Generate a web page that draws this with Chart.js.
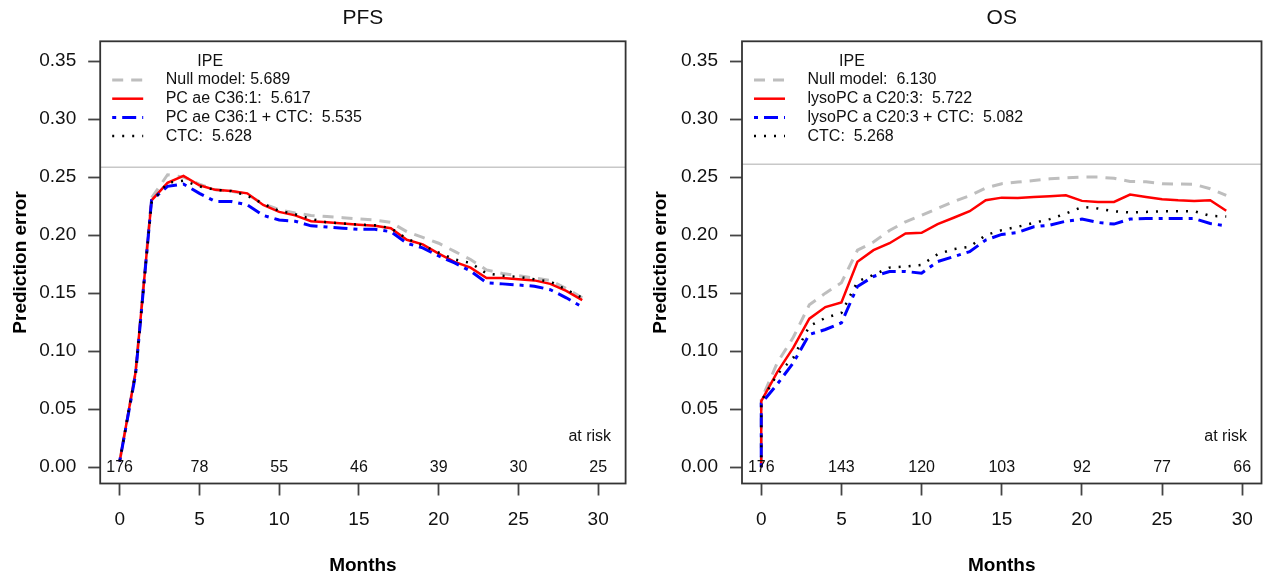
<!DOCTYPE html>
<html>
<head>
<meta charset="utf-8">
<script src="https://cdn.jsdelivr.net/npm/chart.js@4.4.0/dist/chart.umd.min.js"></script>
<style>
  body { margin: 0; background: #fff; width: 1266px; height: 579px; overflow: hidden; }
  canvas { position: absolute; top: 0; }
  #pfs { left: 0; }
  #os { left: 633px; }
</style>
</head>
<body>
<canvas id="pfs" width="633" height="579"></canvas>
<canvas id="os" width="633" height="579"></canvas>
<script>
//========================= Data ===========================
var xTicks = [0, 5, 10, 15, 20, 25, 30];
var yTicks = [0, 0.05, 0.10, 0.15, 0.20, 0.25, 0.30, 0.35];

// PFS panel: one value per month 0..29
var pfsTimes = [0, 1, 2, 3, 4, 5, 6, 7, 8, 9, 10, 11, 12, 13, 14, 15, 16, 17, 18, 19, 20, 21, 22, 23, 24, 25, 26, 27, 28, 29];
var pfsNull  = [0.005, 0.082, 0.232, 0.252, 0.250, 0.244, 0.239, 0.238, 0.235, 0.227, 0.222, 0.219, 0.217, 0.216, 0.215, 0.214, 0.213, 0.211, 0.203, 0.198, 0.193, 0.186, 0.179, 0.170, 0.167, 0.165, 0.163, 0.161, 0.154, 0.146];
var pfsPC    = [0.005, 0.082, 0.230, 0.245, 0.251, 0.243, 0.239, 0.238, 0.236, 0.226, 0.220, 0.217, 0.212, 0.211, 0.210, 0.209, 0.208, 0.206, 0.196, 0.192, 0.184, 0.177, 0.172, 0.163, 0.163, 0.162, 0.161, 0.158, 0.152, 0.144];
var pfsPCCtc = [0.005, 0.080, 0.230, 0.242, 0.244, 0.236, 0.229, 0.229, 0.226, 0.217, 0.213, 0.212, 0.208, 0.207, 0.206, 0.205, 0.205, 0.203, 0.193, 0.189, 0.182, 0.176, 0.169, 0.159, 0.158, 0.157, 0.156, 0.153, 0.146, 0.138];
var pfsCTC   = [0.005, 0.082, 0.228, 0.245, 0.247, 0.242, 0.239, 0.238, 0.234, 0.227, 0.221, 0.218, 0.214, 0.211, 0.210, 0.209, 0.2085, 0.206, 0.197, 0.191, 0.185, 0.179, 0.176, 0.167, 0.165, 0.164, 0.162, 0.160, 0.153, 0.146];
var pfsLabels = ['Null model: 5.689', 'PC ae C36:1:  5.617', 'PC ae C36:1 + CTC:  5.535', 'CTC:  5.628'];
var pfsAtRisk = [176, 78, 55, 46, 39, 30, 25];

// OS panel: jump at time 0, then one value per month 0..29
var osTimes    = [0, 0, 1, 2, 3, 4, 5, 6, 7, 8, 9, 10, 11, 12, 13, 14, 15, 16, 17, 18, 19, 20, 21, 22, 23, 24, 25, 26, 27, 28, 29];
var osNull     = [0, 0.058, 0.090, 0.112, 0.140, 0.150, 0.159, 0.187, 0.194, 0.204, 0.2115, 0.217, 0.223, 0.229, 0.234, 0.2406, 0.2443, 0.2457, 0.247, 0.2485, 0.2494, 0.250, 0.250, 0.249, 0.2463, 0.246, 0.2443, 0.244, 0.2437, 0.240, 0.2343];
var osLyso     = [0, 0.057, 0.082, 0.103, 0.128, 0.138, 0.142, 0.177, 0.187, 0.193, 0.2015, 0.202, 0.2095, 0.215, 0.2206, 0.230, 0.2323, 0.232, 0.2329, 0.2335, 0.2343, 0.2295, 0.2286, 0.2286, 0.2349, 0.2329, 0.2309, 0.230, 0.2295, 0.230, 0.221];
var osLysoCtc  = [0, 0.055, 0.0716, 0.090, 0.1144, 0.1187, 0.1244, 0.1558, 0.1644, 0.1687, 0.1687, 0.1672, 0.1772, 0.1815, 0.1858, 0.1958, 0.2006, 0.2023, 0.2072, 0.2086, 0.212, 0.2138, 0.2109, 0.2095, 0.2138, 0.2143, 0.2143, 0.2143, 0.2143, 0.210, 0.208];
var osCTC      = [0, 0.057, 0.080, 0.0944, 0.1216, 0.1287, 0.133, 0.160, 0.1658, 0.172, 0.173, 0.1744, 0.1835, 0.188, 0.190, 0.200, 0.2043, 0.2072, 0.2106, 0.2138, 0.2186, 0.2243, 0.2229, 0.2206, 0.2195, 0.220, 0.2206, 0.2206, 0.2206, 0.2166, 0.216];
var osLabels = ['Null model:  6.130', 'lysoPC a C20:3:  5.722', 'lysoPC a C20:3 + CTC:  5.082', 'CTC:  5.268'];
var osAtRisk = [176, 143, 120, 103, 92, 77, 66];

var atRiskTimes = [0, 5, 10, 15, 20, 25, 30];

//========================= Styles ===========================
var FONT = '"Liberation Sans", Arial, Helvetica, sans-serif';
Chart.defaults.font.family = FONT;

var seriesStyle = [
    { color: '#bebebe', width: 3,   dash: [11, 8] },
    { color: '#ff0000', width: 2.5, dash: [] },
    { color: '#0000ff', width: 3,   dash: [4, 6, 14, 6] },
    { color: '#000000', width: 2.5, dash: [2, 8] }
];

// box, legend and "at risk" numbers, R style
var decor = {
    id: 'decor',
    afterDatasetsDraw: function (chart, args, o) {
        var ctx = chart.ctx, a = chart.chartArea;
        var xs = chart.scales.x, ys = chart.scales.y;
        ctx.save();

        // legend frame bottom line
        ctx.strokeStyle = '#c8c8c8';
        ctx.lineWidth = 1.5;
        ctx.beginPath();
        ctx.moveTo(a.left, a.top + o.legendBottom);
        ctx.lineTo(a.right, a.top + o.legendBottom);
        ctx.stroke();

        // plot box
        ctx.strokeStyle = '#333';
        ctx.lineWidth = 1.8;
        ctx.strokeRect(a.left, a.top, a.right - a.left, a.bottom - a.top);

        // legend
        ctx.font = '16px ' + FONT;
        ctx.fillStyle = '#111';
        ctx.textBaseline = 'middle';
        ctx.textAlign = 'center';
        ctx.fillText('IPE', a.left + 110, a.top + 20.4);
        ctx.textAlign = 'left';
        o.labels.forEach(function (t, i) {
            var ly = a.top + 38.7 + i * 18.7;
            var st = seriesStyle[i];
            ctx.strokeStyle = st.color;
            ctx.lineWidth = st.width;
            ctx.setLineDash(st.dash);
            ctx.beginPath();
            ctx.moveTo(a.left + 12, ly);
            ctx.lineTo(a.left + 43, ly);
            ctx.stroke();
            ctx.setLineDash([]);
            ctx.fillText(t, a.left + 65.5, ly);
        });

        // numbers at risk
        var y0 = ys.getPixelForValue(0);
        ctx.textAlign = 'right';
        ctx.fillText('at risk', a.right - 14.5, y0 - 31);
        ctx.textAlign = 'center';
        atRiskTimes.forEach(function (t, i) {
            ctx.fillText(String(o.atRisk[i]), xs.getPixelForValue(t), y0);
        });
        ctx.restore();
    }
};

//========================= Chart builder ===========================
function chart(id, title, times, series, labels, atRisk, lay) {
    var datasets = series.map(function (vals, i) {
        var st = seriesStyle[i];
        return {
            label: labels[i],
            data: times.map(function (t, j) { return { x: t, y: vals[j] }; }),
            borderColor: st.color,
            borderWidth: st.width,
            borderDash: st.dash,
            borderCapStyle: 'butt',
            pointRadius: 0,
            tension: 0,
            fill: false,
            order: 4 - i
        };
    });

    var tickGrid = {
        drawOnChartArea: false,
        drawTicks: true,
        tickLength: 12,
        tickColor: '#444',
        tickWidth: 1.8
    };

    return new Chart(document.getElementById(id), {
        type: 'line',
        data: { datasets: datasets },
        options: {
            responsive: false,
            animation: false,
            layout: { padding: { left: lay.padLeft, right: lay.padRight, top: 0, bottom: 0 } },
            plugins: {
                legend: { display: false },
                tooltip: { enabled: false },
                title: {
                    display: true,
                    fullSize: false,
                    text: title,
                    color: '#111',
                    font: { size: 21, weight: 'normal' },
                    padding: { top: 6, bottom: 10.1 }
                },
                decor: { labels: labels, atRisk: atRisk, legendBottom: lay.legendBottom }
            },
            scales: {
                x: {
                    type: 'linear',
                    min: lay.xMin,
                    max: lay.xMax,
                    afterBuildTicks: function (s) { s.ticks = xTicks.map(function (v) { return { value: v }; }); },
                    afterFit: function (s) { s.height = 95.5; },
                    grid: tickGrid,
                    border: { display: false },
                    ticks: { color: '#111', font: { size: 19 }, padding: 13, maxRotation: 0 },
                    title: {
                        display: true,
                        text: 'Months',
                        color: '#000',
                        font: { size: 19, weight: 'bold' },
                        padding: { top: 0, bottom: 1.6 }
                    }
                },
                y: {
                    min: -0.014,
                    max: 0.367,
                    afterBuildTicks: function (s) { s.ticks = yTicks.map(function (v) { return { value: v }; }); },
                    afterFit: function (s) { s.width = lay.yWidth; },
                    grid: tickGrid,
                    border: { display: false },
                    ticks: {
                        color: '#111',
                        font: { size: 19 },
                        padding: 12,
                        callback: function (v) { return v.toFixed(2); }
                    },
                    title: {
                        display: true,
                        text: 'Prediction error',
                        color: '#000',
                        font: { size: 19, weight: 'bold' },
                        padding: { top: 9.6, bottom: 0 }
                    }
                }
            }
        },
        plugins: [decor]
    });
}

chart('pfs', 'PFS', pfsTimes, [pfsNull, pfsPC, pfsPCCtc, pfsCTC], pfsLabels, pfsAtRisk,
      { padLeft: 0, padRight: 7.4, yWidth: 100.2, xMin: -1.22, xMax: 31.72, legendBottom: 126 });
chart('os', 'OS', osTimes, [osNull, osLyso, osLysoCtc, osCTC], osLabels, osAtRisk,
      { padLeft: 7, padRight: 1, yWidth: 102, xMin: -1.2, xMax: 31.2, legendBottom: 123 });
</script>
</body>
</html>
